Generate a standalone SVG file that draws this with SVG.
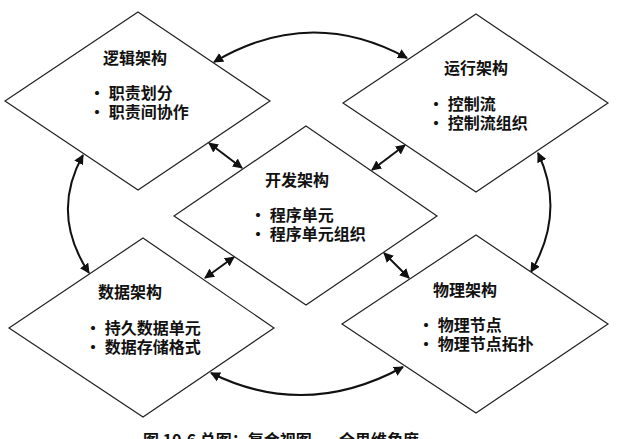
<svg xmlns="http://www.w3.org/2000/svg" width="643" height="439" viewBox="0 0 643 439">
<style>
.d{fill:#fff;stroke:#222;stroke-width:1.2}
.t{font-family:"Noto Sans CJK SC","Liberation Sans",sans-serif;font-weight:bold;font-size:16px;fill:#111}
.c{fill:none;stroke:#111;stroke-width:2;marker-start:url(#a);marker-end:url(#a)}
</style>
<defs>
<marker id="a" viewBox="0 0 10 10" refX="9" refY="5" markerWidth="5" markerHeight="5" orient="auto-start-reverse"><path d="M0,0L10,5L0,10z" fill="#111"/></marker>
</defs>
<rect width="643" height="439" fill="#fff"/>
<g id="connectors">
<path class="c" d="M214,62 Q310,5 407,58"/>
<path class="c" d="M538,153 Q566,212 531,272"/>
<path class="c" d="M211,373 Q306,420 403,367"/>
<path class="c" d="M83,155 Q50,214 89,273"/>
<path class="c" d="M209,143 L242,168"/>
<path class="c" d="M405,145 L372,170"/>
<path class="c" d="M234,257 L205,278"/>
<path class="c" d="M384,253 L409,278"/>
</g>
<g id="logic">
<path class="d" d="M138,12L270,101L138,190L5,101z"/>
<text class="t" x="135" y="64" text-anchor="middle">逻辑架构</text>
<text class="t" x="89" y="99">• 职责划分</text>
<text class="t" x="89" y="118">• 职责间协作</text>
</g>
<g id="run">
<path class="d" d="M476,14L608,103L476,192L343,103z"/>
<text class="t" x="476" y="74" text-anchor="middle">运行架构</text>
<text class="t" x="428" y="110">• 控制流</text>
<text class="t" x="428" y="129">• 控制流组织</text>
</g>
<g id="dev">
<path class="d" d="M306,126L437,216L306,305L174,216z"/>
<text class="t" x="297" y="186" text-anchor="middle">开发架构</text>
<text class="t" x="250" y="221">• 程序单元</text>
<text class="t" x="250" y="240">• 程序单元组织</text>
</g>
<g id="data">
<path class="d" d="M143,238L274,328L143,417L9,328z"/>
<text class="t" x="130" y="298" text-anchor="middle">数据架构</text>
<text class="t" x="85" y="334">• 持久数据单元</text>
<text class="t" x="85" y="353">• 数据存储格式</text>
</g>
<g id="phys">
<path class="d" d="M476,235L608,324L476,413L342,324z"/>
<text class="t" x="465" y="296" text-anchor="middle">物理架构</text>
<text class="t" x="418" y="331">• 物理节点</text>
<text class="t" x="418" y="350">• 物理节点拓扑</text>
</g>
<text class="t" x="143" y="446">图 10.6  总图：复合视图——全思维角度</text>
</svg>
